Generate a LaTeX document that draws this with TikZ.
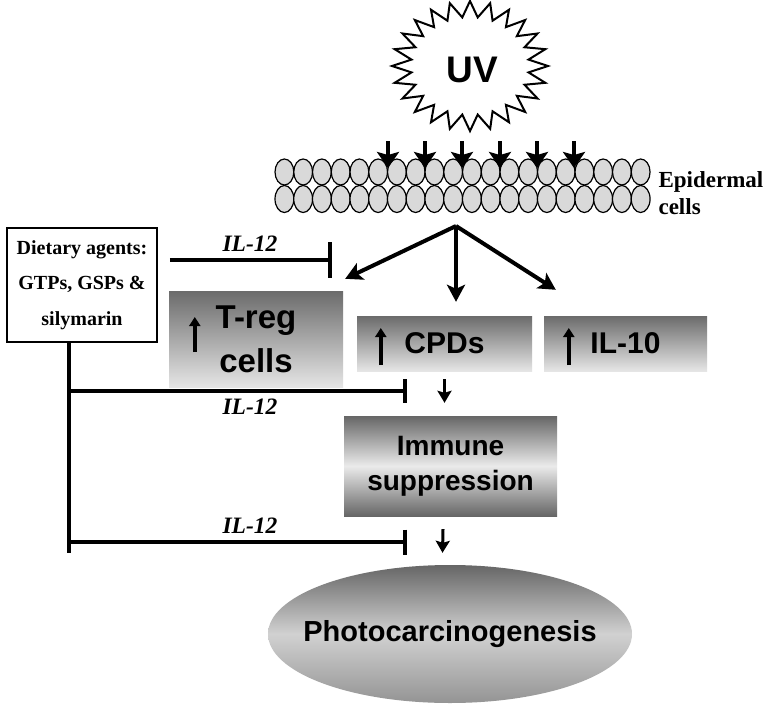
\documentclass[tikz,border=0pt]{standalone}
\usepackage{fontspec}
\setmainfont{Liberation Serif}
\setsansfont{Liberation Sans}
\usetikzlibrary{arrows.meta,shapes.geometric}
\tikzset{
  greybox/.style={draw=none,inner sep=0pt,top color=black!58,bottom color=black!10,align=center},
  uparrow/.style={line width=3.5pt,-{Triangle[length=9pt,width=11pt]}},
  fork/.style={line width=4pt,-{Stealth[length=17pt,width=18pt,inset=4pt]}},
  smallarrow/.style={line width=3pt,-{Stealth[length=12pt,width=14pt,inset=2pt]}},
  block/.style={line width=4pt,-{Bar[width=#1]}},
  ilabel/.style={draw=none,font=\rmfamily\bfseries\itshape\fontsize{23.5}{26}\selectfont}
}
\begin{document}
\begin{tikzpicture}[x=1pt,y=-1pt]
\useasboundingbox (0,0) rectangle (768,709);
\fill[white] (0,0) rectangle (768,709);
\draw[line width=2pt,fill=white,line join=miter] plot[domain=0:47,samples=48,variable=\k]
  ({470+ifthenelse(mod(round(\k),2)==0,78,59)*cos(\k*7.5)},{66+ifthenelse(mod(round(\k),2)==0,65,49)*sin(\k*7.5)}) -- cycle;
\node[draw=none,font=\sffamily\bfseries\fontsize{37}{40}\selectfont] (uv) at (472,70) {UV};
\foreach \i in {0,...,19}{
  \draw[fill=black!15,line width=1.2pt] (284.4+18.75*\i,172) ellipse (9.4pt and 13pt);
  \draw[fill=black!15,line width=1.2pt] (284.4+18.75*\i,199) ellipse (9.4pt and 13.5pt);
}
\foreach \x in {388,425,462,500,537,574}
  \draw[line width=3.5pt,-{Stealth[length=16pt,width=22pt,inset=3pt]}] (\x,141) -- (\x,168);
\node[draw=none,anchor=west,align=left,font=\rmfamily\bfseries\fontsize{23}{27}\selectfont] (epi) at (655,193) {Epidermal\\cells};
\coordinate (sk) at (456,226);

\node[draw,line width=1.5pt,minimum width=150pt,minimum height=114pt,inner sep=0pt,align=center,
  font=\rmfamily\bfseries\fontsize{20}{35.5}\selectfont] (diet) at (82,285) {Dietary agents:\\GTPs, GSPs \&\\silymarin};
\node[greybox,minimum width=174pt,minimum height=96pt,font=\sffamily\bfseries\fontsize{33}{44}\selectfont] (treg) at (256,339) {T-reg\\cells};
\node[greybox,minimum width=175pt,minimum height=55pt,font=\sffamily\bfseries\fontsize{30}{34}\selectfont] (cpd) at (444.5,343.5) {CPDs};
\node[greybox,minimum width=163pt,minimum height=55pt,font=\sffamily\bfseries\fontsize{30}{34}\selectfont] (il10) at (625.5,343.5) {IL-10};
\node[greybox,top color=black!60,bottom color=black!60,middle color=black!8,minimum width=213pt,minimum height=100pt,
  font=\sffamily\bfseries\fontsize{28}{35}\selectfont] (immune) at (450.5,466) {Immune\\suppression};
\node[ellipse,draw=none,inner sep=0pt,top color=black!60,bottom color=black!42,middle color=black!18,minimum width=364pt,minimum height=138pt,
  font=\sffamily\bfseries\fontsize{29}{32}\selectfont] (photo) at (450,634) {\makebox[0pt]{Photocarcinogenesis}};

\draw[uparrow] ([xshift=26,yshift=-13]treg.west) -- ([xshift=26,yshift=22]treg.west);
\draw[uparrow] ([xshift=24,yshift=-21.5]cpd.west) -- ([xshift=24,yshift=15.5]cpd.west);
\draw[uparrow] ([xshift=25,yshift=-21.5]il10.west) -- ([xshift=25,yshift=15.5]il10.west);

\draw[fork] (sk) -- ([xshift=2,yshift=12]treg.north east);
\draw[fork] (sk) -- ([yshift=14]sk |- cpd.north);
\draw[fork] (sk) -- ([xshift=12,yshift=26]il10.north west);
\draw[smallarrow] ([yshift=-8]cpd.south) -- ([xshift=-6,yshift=13]immune.north);
\draw[smallarrow] ([xshift=-7.5,yshift=-13]immune.south) -- ([xshift=-7.5,yshift=12]photo.north);

\coordinate (j2) at (69,391);
\coordinate (j3) at (69,542);
\coordinate (tend) at (69,553);
\draw[line width=4pt] ([xshift=-13]diet.south) -- (tend);
\draw[block=36pt] ([xshift=12,yshift=25]diet.east) -- (332,260);
\draw[block=24pt] (j2) -- (407,391);
\draw[block=25pt] (j3) -- (407,542);
\node[ilabel] (l1) at (250,244) {IL-12};
\node[ilabel] (l2) at (250,407) {IL-12};
\node[ilabel] (l3) at (250,526) {IL-12};
\end{tikzpicture}
\end{document}
